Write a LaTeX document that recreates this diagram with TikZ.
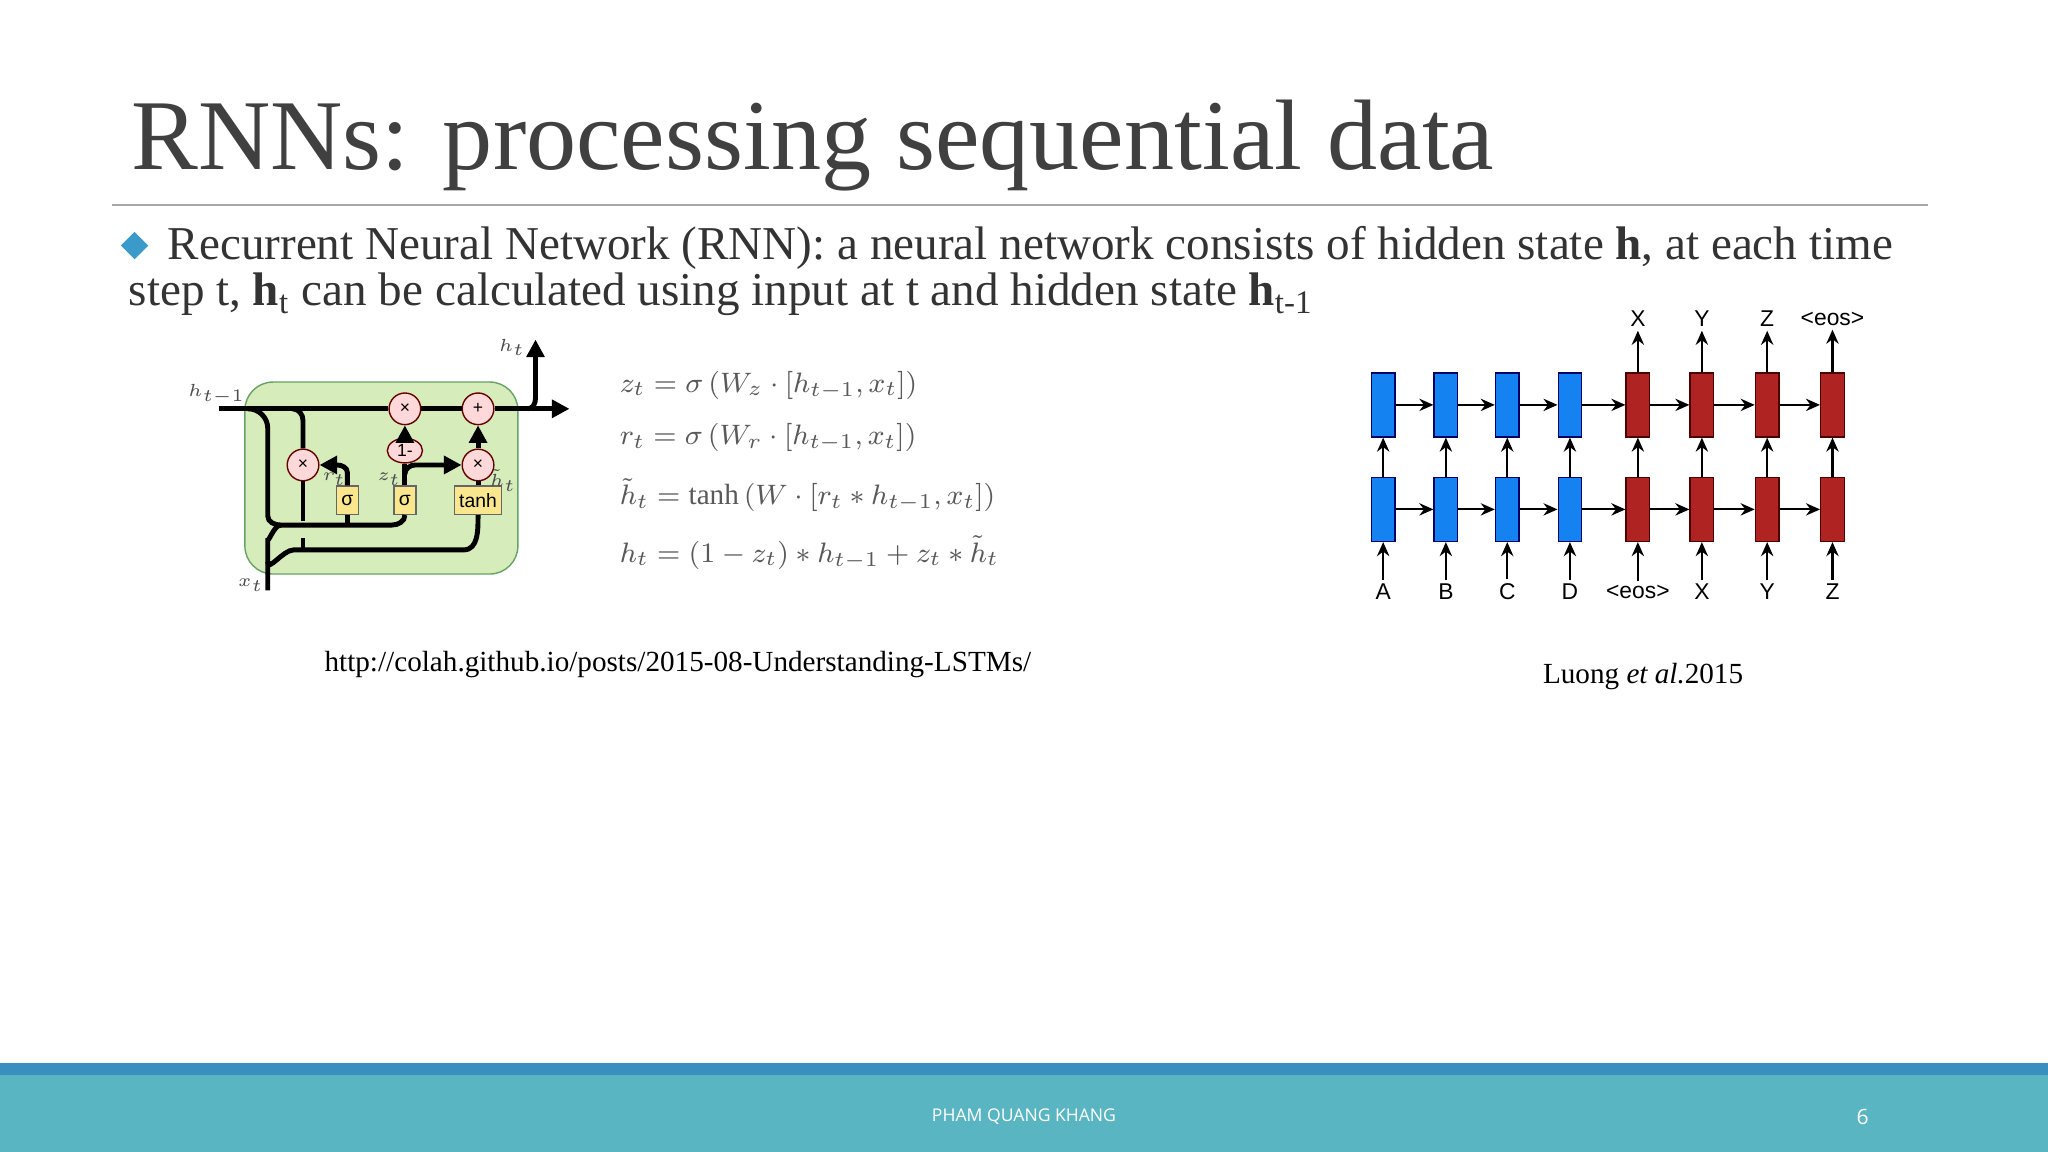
\documentclass[tikz,border=0pt]{standalone}
\usepackage{fontspec}
\setmainfont{Liberation Serif}
\newfontfamily\footfont{Open Sans}
\newfontfamily\arialf{Liberation Sans}
\usetikzlibrary{arrows.meta,shapes.geometric}
\definecolor{bulc}{RGB}{58,154,201}
\definecolor{encc}{RGB}{20,130,240}
\definecolor{decc}{RGB}{175,35,35}
\definecolor{fdark}{RGB}{58,143,192}
\definecolor{flight}{RGB}{90,181,194}
\definecolor{cellc}{RGB}{214,236,186}
\definecolor{gatec}{RGB}{250,230,140}
\begin{document}
\begin{tikzpicture}[x=0.01306cm,y=-0.01306cm,
  gl/.style={line width=1.4pt},
  ga/.style={line width=1.4pt,-{Triangle[length=5pt,width=5pt]}},
  op/.style={circle,draw=red!40!black,fill=red!15,inner sep=0pt,minimum size=9pt,font=\arialf\fontsize{5}{5}\selectfont},
  gate/.style={draw=black!60,fill=gatec,inner sep=1pt,minimum width=0.22cm,minimum height=8pt,font=\arialf\fontsize{5.5}{5.5}\selectfont},
  enc/.style={draw=blue!40!black,fill=encc,minimum width=0.235cm,minimum height=0.64cm,inner sep=0pt},
  dec/.style={draw=red!30!black,fill=decc,minimum width=0.235cm,minimum height=0.64cm,inner sep=0pt},
  sa/.style={line width=0.6pt,-{Stealth[length=4pt,width=3.5pt]}},
  lab/.style={font=\arialf\fontsize{6.5}{6.5}\selectfont,inner sep=1pt},
  tl/.style={font=\fontsize{5.5}{5.5}\selectfont,text=black!70,inner sep=0pt},
  eq/.style={anchor=west,inner sep=0pt,text=black!65,font=\fontsize{8.3}{10}\selectfont}]
\useasboundingbox (0,0) rectangle (1568,882);
\fill[white] (0,0) rectangle (1568,882);
% title
\node[anchor=base west,inner sep=0,text=black!75,font=\fontsize{28.5}{32}\selectfont] (title) at (100,130) {RNNs: processing sequential data};
\draw[black!35,line width=0.6pt] (86,157) -- (1476,157);
\node[diamond,fill=bulc,inner sep=0,minimum size=0.28cm] (bul) at (103,188) {};
\node[anchor=base west,inner sep=0,text=black!80,font=\fontsize{13.4}{15}\selectfont] (l1) at (128,199) {Recurrent Neural Network (RNN): a neural network consists of hidden state \textbf{h}, at each time};
\node[anchor=base west,inner sep=0,text=black!80,font=\fontsize{13.4}{15}\selectfont] (l2) at (98,234) {step t, \textbf{h}\textsubscript{t} can be calculated using input at t and hidden state \textbf{h}\textsubscript{t-1}};
% GRU cell
\node[draw=green!40!black!60,fill=cellc,rounded corners=8pt,minimum width=2.73cm,minimum height=1.92cm] (cell) at (292,366) {};
\node[op] (m1) at (310,313) {×};
\node[op] (p1) at (366,313) {+};
\node[ellipse,draw=red!40!black,fill=red!15,inner sep=0pt,minimum width=10pt,minimum height=7pt,font=\arialf\fontsize{5}{5}\selectfont] (om) at (310,345) {1-};
\node[op] (mr) at (232,356) {×};
\node[op] (mz) at (366,356) {×};
\node[gate] (sr) at (266,383) {σ};
\node[gate] (sz) at (310,383) {σ};
\node[gate,minimum width=0.47cm] (th) at (366,383) {tanh};
\coordinate (hin) at (168,313);
\coordinate (hout) at (436,313);
\coordinate (htop) at (410,260);
\coordinate (xin) at (205,452);
\draw[gl] (hin) -- (m1) -- (p1);
\draw[ga] (p1) -- (hout);
\draw[ga] (404,313) to[out=0,in=-90] (410,305) -- (htop);
\draw[gl] (190,313) to[out=0,in=90] (205,328) -- (205,395) to[out=-90,in=180] (215,402) -- (300,402) to[out=0,in=-90] (sz.south);
\draw[gl] (266,402) -- (sr.south);
\draw[gl] (224,313) to[out=0,in=90] (232,322) -- (mr.north);
\draw[gl] (mr.south) -- (232,399);
\draw[gl] (232,412) -- (232,421);
\draw[gl] (xin) -- (205,412) to[out=-90,in=180] (215,402);
\draw[gl] (205,430) to[out=-90,in=180] (225,421) -- (355,421) to[out=0,in=-90] (th.south);
\draw[ga] (sr.north) -- (266,362) to[out=90,in=0] (258,356) -- (mr.east);
\draw[gl] (sz.north) -- (om.south);
\draw[ga] (om.north) -- (m1.south);
\draw[ga] (310,363) to[out=90,in=180] (318,356) -- (mz.west);
\draw[gl] (th.north) -- (mz.south);
\draw[ga] (mz.north) -- (p1.south);
\node[tl] (lr) at (256,367) {$r_t$};
\node[tl] (lz) at (298,367) {$z_t$};
\node[tl] (lh) at (385,368) {$\tilde h_t$};
\node[tl] (lht) at (392,266) {$h_t$};
\node[tl] (lhp) at (166,302) {$h_{t-1}$};
\node[tl] (lx) at (192,448) {$x_t$};
% equations
\node[eq] (e1) at (474,295) {$z_t = \sigma\left(W_z\cdot[h_{t-1},x_t]\right)$};
\node[eq] (e2) at (474,335) {$r_t = \sigma\left(W_r\cdot[h_{t-1},x_t]\right)$};
\node[eq] (e3) at (474,379) {$\tilde h_t = \tanh\left(W\cdot[r_t * h_{t-1},x_t]\right)$};
\node[eq] (e4) at (474,423) {$h_t = (1-z_t)*h_{t-1}+z_t*\tilde h_t$};
\node[font=\fontsize{8.3}{10}\selectfont] (url) at (519,509) {http://colah.github.io/posts/2015-08-Understanding-LSTMs/};
% seq2seq
\foreach \i/\x in {1/1059,2/1107,3/1154,4/1202}{
  \node[enc] (t\i) at (\x,310) {};
  \node[enc] (b\i) at (\x,390) {};}
\foreach \i/\x in {5/1254,6/1303,7/1353,8/1403}{
  \node[dec] (t\i) at (\x,310) {};
  \node[dec] (b\i) at (\x,390) {};}
\foreach \i/\l in {1/A,2/B,3/C,4/D,5/<eos>,6/X,7/Y,8/Z}{
  \path (b\i) ++(0,63) node[lab] (in\i) {\l};
  \draw[sa] (in\i) -- (b\i);
  \draw[sa] (b\i) -- (t\i);}
\foreach \i/\l in {5/X,6/Y,7/Z,8/<eos>}{
  \path (t\i) ++(0,-66) node[lab] (out\i) {\l};
  \draw[sa] (t\i) -- (out\i);}
\foreach \i/\j in {1/2,2/3,3/4,4/5,5/6,6/7,7/8}{
  \draw[sa] (t\i) -- (t\j);
  \draw[sa] (b\i) -- (b\j);}
\node[font=\fontsize{8.3}{10}\selectfont] (cite) at (1258,518) {Luong \textit{et al.}2015};
% footer
\fill[fdark] (0,814) rectangle (1568,823);
\fill[flight] (0,823) rectangle (1568,882);
\node[text=white,font=\footfont\fontsize{5}{6}\selectfont] (ft) at (784,855) {PHAM QUANG KHANG};
\node[text=white,font=\footfont\fontsize{6}{7}\selectfont] (pg) at (1426,855) {6};
\end{tikzpicture}
\end{document}
